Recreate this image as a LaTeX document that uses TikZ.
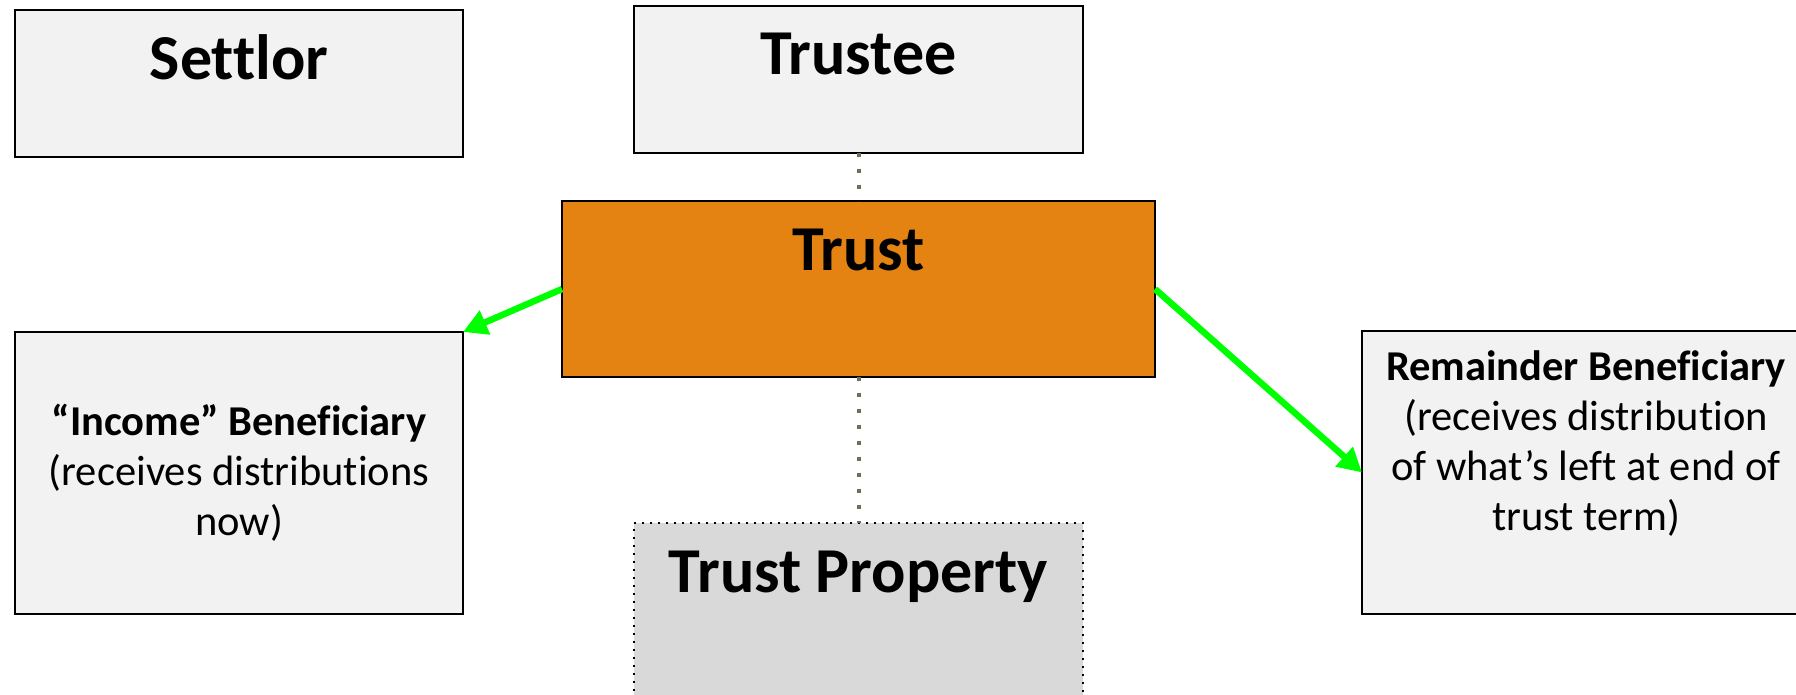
\documentclass[tikz,border=0pt]{standalone}
\usepackage{fontspec}
\setmainfont{Carlito}[Ligatures={NoCommon}]
\usetikzlibrary{arrows.meta}
\definecolor{boxfill}{RGB}{242,242,242}
\definecolor{trustfill}{RGB}{228,131,18}
\definecolor{propfill}{RGB}{217,217,217}
\definecolor{dotline}{RGB}{105,115,90}
\definecolor{arrowgreen}{RGB}{0,255,0}
\begin{document}
\begin{tikzpicture}[x=1pt,y=-1pt,
 box/.style={draw=black, line width=2pt, fill=boxfill, inner sep=0pt, outer sep=0pt},
 bigtext/.style={font=\fontsize{64}{77}\selectfont\bfseries, inner sep=0pt, anchor=base},
 smalltext/.style={font=\fontsize{42.5}{50}\selectfont, inner sep=0pt, align=center},
 link/.style={draw=dotline, line width=4pt, dash pattern=on 4pt off 12pt},
 flow/.style={draw=arrowgreen, line width=6.5pt, -{Triangle[length=24pt,width=25pt]}}
]
\useasboundingbox (0,0) rectangle (1796,695);
\clip (0,0) rectangle (1796,695);
\fill[white] (0,0) rectangle (1796,695);

\node[box, minimum width=448pt, minimum height=147pt] (settlor) at (239,83.5) {};
\node[box, minimum width=449pt, minimum height=147pt] (trustee) at (858.5,79.5) {};
\node[box, fill=trustfill, minimum width=593pt, minimum height=176pt] (trust) at (858.5,289) {};
\node[box, minimum width=448pt, minimum height=282pt] (income) at (239,473) {};
\node[box, minimum width=448pt, minimum height=283pt] (remainder) at (1586,472.5) {};
\node[box, fill=propfill, dash pattern=on 2pt off 6pt, minimum width=449pt, minimum height=240pt] (property) at (858.5,643) {};

\node[bigtext] (settlorT) at (239,80) {Settlor};
\node[bigtext] (trusteeT) at (858.5,75) {Trustee};
\node[bigtext] (trustT) at (858.5,270) {Trust};
\node[bigtext] (propertyT) at (858.5,592) {Trust Property};

\node[smalltext, anchor=base] (incomeT) at (239,535) {\textbf{“Income” Beneficiary}\\(receives distributions\\now)};
\node[smalltext, anchor=base] (remainderT) at (1586,530) {\textbf{Remainder Beneficiary}\\(receives distribution\\of what’s left at end of\\trust term)};

\draw[link] (trustee.south) -- (trust.north);
\draw[link] (trust.south) -- (property.north);
\draw[flow] (trust.west) -- (income.north east);
\draw[flow] (trust.east) -- (remainder.west);
\end{tikzpicture}
\end{document}
